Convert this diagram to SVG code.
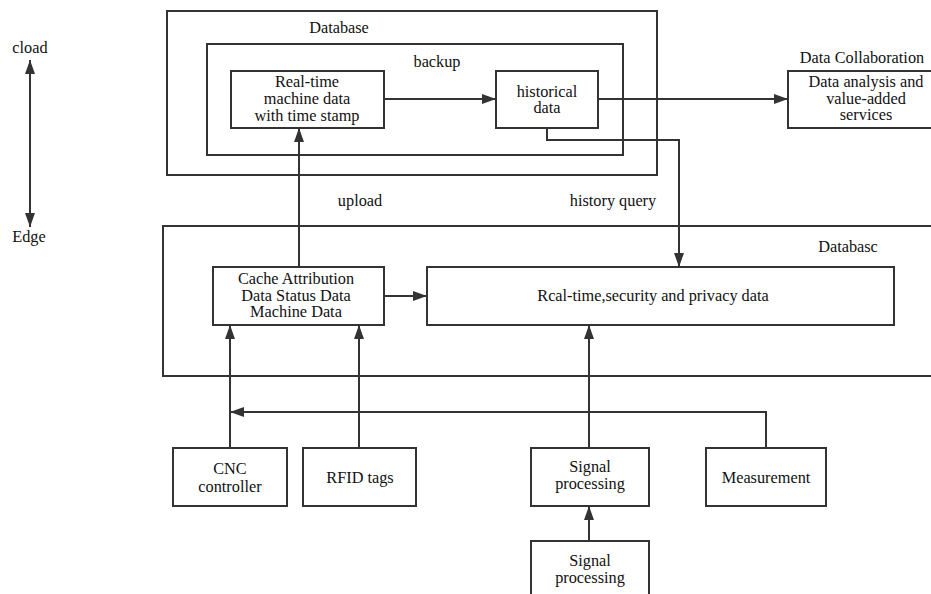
<svg xmlns="http://www.w3.org/2000/svg" width="931" height="594" viewBox="0 0 931 594" font-family="'Liberation Serif', 'DejaVu Serif', serif">
<style>
.b{fill:none;stroke:#333;stroke-width:2}
.c{fill:none;stroke:#333;stroke-width:2}
text{font-family:'Liberation Serif','Times New Roman',serif;font-size:16.3px;fill:#111;text-anchor:middle}
</style>
<defs>
<marker id="a" viewBox="0 0 14 10" refX="14" refY="5" markerWidth="14" markerHeight="10" markerUnits="userSpaceOnUse" orient="auto-start-reverse">
<path d="M0,0 L14,5 L0,10 z" fill="#333"/>
</marker>
</defs>
<rect width="931" height="594" fill="#fff"/>
<g id="axis">
<line class="c" x1="30" y1="60" x2="30" y2="227" marker-start="url(#a)" marker-end="url(#a)"/>
<text x="30" y="53">cload</text>
<text x="29" y="242">Edge</text>
</g>
<g id="cloud-db">
<rect class="b" x="167" y="11" width="490" height="164"/>
<text x="339" y="33">Database</text>
</g>
<g id="backup">
<rect class="b" x="207" y="44" width="416" height="111"/>
<text x="437" y="67">backup</text>
</g>
<g id="realtime">
<rect class="b" x="231" y="71" width="153" height="57"/>
<text x="307" y="87">Real-time</text>
<text x="307" y="104">machine data</text>
<text x="307" y="121">with time stamp</text>
</g>
<g id="historical">
<rect class="b" x="496" y="71" width="102" height="57"/>
<text x="547" y="97">historical</text>
<text x="547" y="113">data</text>
</g>
<g id="collab">
<text x="862" y="63">Data Collaboration</text>
<path class="b" d="M932,71 H788 V128 H932"/>
<text x="866" y="87">Data analysis and</text>
<text x="866" y="104">value-added</text>
<text x="866" y="120">services</text>
</g>
<g id="edge-db">
<path class="b" d="M932,226 H163 V376 H932"/>
<text x="848" y="252">Databasc</text>
</g>
<g id="cache">
<rect class="b" x="213" y="267" width="171" height="58"/>
<text x="296" y="284">Cache Attribution</text>
<text x="296" y="301">Data Status Data</text>
<text x="296" y="317">Machine Data</text>
</g>
<g id="rcal">
<rect class="b" x="427" y="267" width="467" height="58"/>
<text x="653" y="301">Rcal-time,security and privacy data</text>
</g>
<g id="cnc">
<rect class="b" x="173" y="448" width="114" height="58"/>
<text x="230" y="474">CNC</text>
<text x="230" y="492">controller</text>
</g>
<g id="rfid">
<rect class="b" x="303" y="448" width="113" height="58"/>
<text x="360" y="483">RFID tags</text>
</g>
<g id="signal1">
<rect class="b" x="531" y="448" width="118" height="58"/>
<text x="590" y="472">Signal</text>
<text x="590" y="489">processing</text>
</g>
<g id="measurement">
<rect class="b" x="706" y="448" width="120" height="58"/>
<text x="766" y="483">Measurement</text>
</g>
<g id="signal2">
<path class="b" d="M531,595 V541 H649 V595"/>
<text x="590" y="566">Signal</text>
<text x="590" y="583">processing</text>
</g>
<g id="connectors">
<line class="c" x1="384" y1="99" x2="496" y2="99" marker-end="url(#a)"/>
<line class="c" x1="598" y1="99" x2="788" y2="99" marker-end="url(#a)"/>
<path class="c" d="M547,128 V140 H679 V267" marker-end="url(#a)"/>
<line class="c" x1="299" y1="267" x2="299" y2="128" marker-end="url(#a)"/>
<text x="360" y="206">upload</text>
<text x="613" y="206">history query</text>
<line class="c" x1="384" y1="296" x2="427" y2="296" marker-end="url(#a)"/>
<line class="c" x1="230" y1="448" x2="230" y2="325" marker-end="url(#a)"/>
<line class="c" x1="359" y1="448" x2="359" y2="325" marker-end="url(#a)"/>
<path class="c" d="M766,448 V412 H230" marker-end="url(#a)"/>
<line class="c" x1="589" y1="448" x2="589" y2="325" marker-end="url(#a)"/>
<line class="c" x1="589" y1="541" x2="589" y2="506" marker-end="url(#a)"/>
</g>
</svg>
